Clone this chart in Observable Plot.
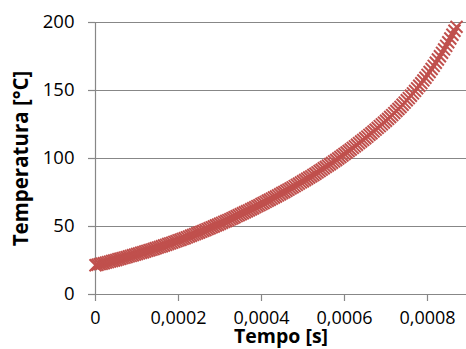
<!DOCTYPE html>
<html><head><meta charset="utf-8">
<script src="https://cdn.jsdelivr.net/npm/d3@7"></script>
<script src="https://cdn.jsdelivr.net/npm/@observablehq/plot@0.6"></script>
<style>
body{margin:0;background:#fff;overflow:hidden}
svg{display:block}
</style>
</head><body><div id="chart"></div>
<script>
// Tempo [s]
const tempo = [
  0.000000,0.000005,0.000010,0.000015,0.000020,0.000025,0.000030,0.000035,0.000040,0.000045,
  0.000050,0.000055,0.000060,0.000065,0.000070,0.000075,0.000080,0.000085,0.000090,0.000095,
  0.000100,0.000105,0.000110,0.000115,0.000120,0.000125,0.000130,0.000135,0.000140,0.000145,
  0.000150,0.000155,0.000160,0.000165,0.000170,0.000175,0.000180,0.000185,0.000190,0.000195,
  0.000200,0.000205,0.000210,0.000215,0.000220,0.000225,0.000230,0.000235,0.000240,0.000245,
  0.000250,0.000255,0.000260,0.000265,0.000270,0.000275,0.000280,0.000285,0.000290,0.000295,
  0.000300,0.000305,0.000310,0.000315,0.000320,0.000325,0.000330,0.000335,0.000340,0.000345,
  0.000350,0.000355,0.000360,0.000365,0.000370,0.000375,0.000380,0.000385,0.000390,0.000395,
  0.000400,0.000405,0.000410,0.000415,0.000420,0.000425,0.000430,0.000435,0.000440,0.000445,
  0.000450,0.000455,0.000460,0.000465,0.000470,0.000475,0.000480,0.000485,0.000490,0.000495,
  0.000500,0.000505,0.000510,0.000515,0.000520,0.000525,0.000530,0.000535,0.000540,0.000545,
  0.000550,0.000555,0.000560,0.000565,0.000570,0.000575,0.000580,0.000585,0.000590,0.000595,
  0.000600,0.000605,0.000610,0.000615,0.000620,0.000625,0.000630,0.000635,0.000640,0.000645,
  0.000650,0.000655,0.000660,0.000665,0.000670,0.000675,0.000680,0.000685,0.000690,0.000695,
  0.000700,0.000705,0.000710,0.000715,0.000720,0.000725,0.000730,0.000735,0.000740,0.000745,
  0.000750,0.000755,0.000760,0.000765,0.000770,0.000775,0.000780,0.000785,0.000790,0.000795,
  0.000800,0.000805,0.000810,0.000815,0.000820,0.000825,0.000830,0.000835,0.000840,0.000845,
  0.000850,0.000855,0.000860,0.000865,0.000870
];
// Temperatura [°C]
const temperatura = [
  21.5,21.9,22.3,22.6,23.0,23.4,23.8,24.2,24.6,25.0,
  25.4,25.9,26.3,26.7,27.1,27.5,28.0,28.4,28.9,29.3,
  29.8,30.2,30.7,31.1,31.6,32.1,32.5,33.0,33.5,34.0,
  34.5,35.0,35.5,36.0,36.5,37.1,37.6,38.1,38.7,39.2,
  39.8,40.3,40.9,41.4,42.0,42.6,43.2,43.8,44.4,45.0,
  45.6,46.2,46.8,47.4,48.1,48.7,49.4,50.0,50.7,51.3,
  52.0,52.7,53.4,54.0,54.7,55.4,56.1,56.8,57.6,58.3,
  59.0,59.7,60.5,61.2,61.9,62.7,63.4,64.2,65.0,65.7,
  66.5,67.3,68.1,68.9,69.7,70.5,71.3,72.1,72.9,73.7,
  74.6,75.4,76.3,77.1,78.0,78.8,79.7,80.6,81.5,82.4,
  83.3,84.2,85.1,86.0,86.9,87.9,88.8,89.8,90.8,91.8,
  92.8,93.8,94.8,95.8,96.8,97.9,98.9,100.0,101.1,102.2,
  103.3,104.4,105.5,106.6,107.8,108.9,110.1,111.3,112.5,113.7,
  114.9,116.1,117.4,118.6,119.9,121.2,122.5,123.8,125.1,126.4,
  127.8,129.1,130.5,131.9,133.4,134.9,136.4,137.9,139.5,141.1,
  142.8,144.4,146.1,147.9,149.7,151.6,153.5,155.4,157.4,159.4,
  161.5,163.6,165.8,168.1,170.4,172.8,175.2,177.7,180.2,182.8,
  185.5,188.2,191.0,193.9,196.8
];
const xTicks = [0, 0.0002, 0.0004, 0.0006, 0.0008];
const yTicks = [0, 50, 100, 150, 200];
const xTitle = "Tempo [s]";
const yTitle = "Temperatura [°C]";

const data = tempo.map((t, i) => ({t, T: temperatura[i]}));
const grid = "#878787";
const fmtX = d => d === 0 ? "0" : d.toFixed(4).replace(".", ",");

const chart = Plot.plot({
  width: 466,
  height: 349,
  marginLeft: 95,
  marginRight: 0,
  marginTop: 22,
  marginBottom: 55,
  style: {fontFamily: "'Open Sans', sans-serif", fontSize: "18px", color: "#000", background: "#fff", overflow: "visible"},
  x: {domain: [0, 0.000894]},
  y: {domain: [0, 200]},
  marks: [
    Plot.ruleY(yTicks.filter(d => d > 0), {stroke: grid, strokeWidth: 1.2}),
    Plot.ruleY([0], {stroke: grid, strokeWidth: 1.2}),
    Plot.ruleX([0], {stroke: grid, strokeWidth: 1.2}),
    Plot.axisX({ticks: xTicks, tickFormat: fmtX, tickSize: 7, tickPadding: 10, stroke: grid, strokeWidth: 1.2, color: "#000", label: null, fontSize: 18}),
    Plot.axisY({ticks: yTicks, tickSize: 7, tickPadding: 14, stroke: grid, strokeWidth: 1.2, color: "#000", label: null, fontSize: 18.5}),
    Plot.dot(data, {x: "t", y: "T", symbol: "times", r: 5.5, stroke: "#C0504D", strokeWidth: 2}),
    Plot.text([xTitle], {frameAnchor: "bottom", lineAnchor: "bottom", dy: 48.5, fontWeight: "bold", fontSize: 19.5, fill: "#000"}),
    Plot.text([yTitle], {frameAnchor: "left", textAnchor: "middle", rotate: -90, dx: -74, fontWeight: "bold", fontSize: 20.5, fill: "#000"})
  ]
});
document.getElementById("chart").appendChild(chart);
</script>
</body></html>
